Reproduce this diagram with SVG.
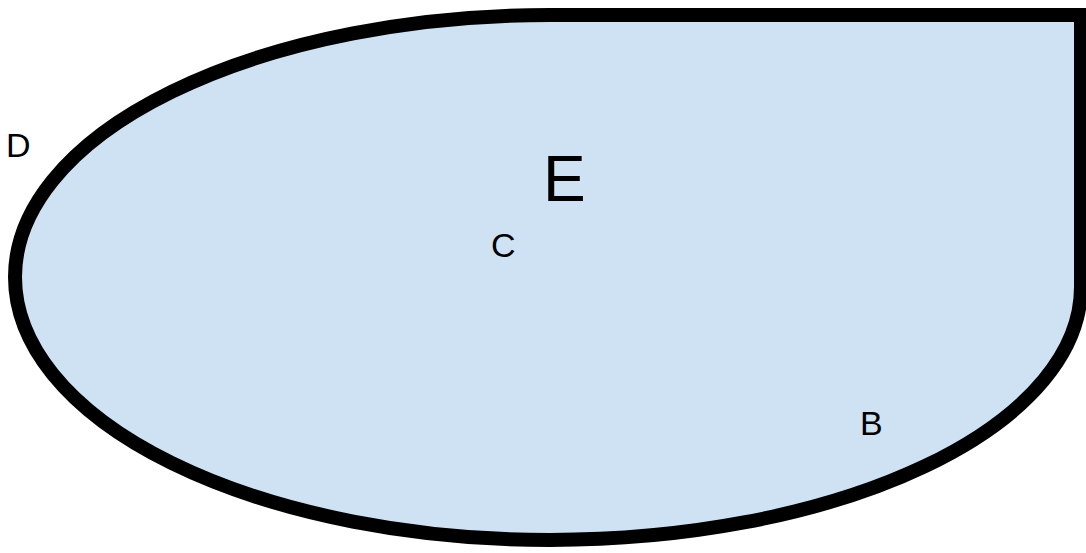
<svg xmlns="http://www.w3.org/2000/svg" width="1086" height="553" viewBox="0 0 1086 553">
<style>
.shape{fill:#cfe2f3;stroke:#000;stroke-width:14;stroke-linejoin:miter}
.lbl{font-family:"Liberation Sans",Arial,sans-serif;fill:#000}
</style>
<rect width="1086" height="553" fill="#fff"/>
<g id="E">
<path class="shape" d="M550 15 H1081 V287 A531 253 0 0 1 550 540 A535 263 0 0 1 15 277 A535 262 0 0 1 550 15 Z"/>
<text class="lbl" x="543" y="201" font-size="64">E</text>
</g>
<g id="D"><text class="lbl" x="6" y="157" font-size="34">D</text></g>
<g id="C"><text class="lbl" x="491" y="257" font-size="34">C</text></g>
<g id="B"><text class="lbl" x="860" y="435" font-size="34">B</text></g>
<g id="connectors"></g>
</svg>
